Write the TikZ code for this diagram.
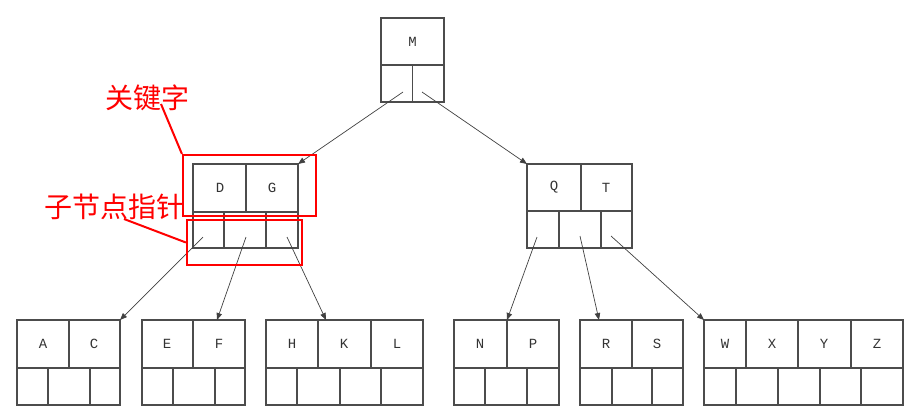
\documentclass[tikz,border=0pt]{standalone}
\usepackage{fontspec}
\newfontfamily\cjk{Noto Sans CJK SC}
\newfontfamily\keyfont{Liberation Mono}
\usetikzlibrary{arrows.meta}
\tikzset{
  box/.style={draw=black!70, line width=1.1pt},
  arr/.style={draw=black!75, line width=0.7pt, -{Triangle[length=7pt,width=5.5pt]}},
  key/.style={font=\keyfont\fontsize{14}{14}\selectfont, text=black!80},
  redbox/.style={draw=red, line width=2.2pt},
  redline/.style={draw=red, line width=2pt},
  redlab/.style={font=\cjk\fontsize{28}{28}\selectfont, text=red, inner sep=0pt}
}
% #1 name #2 x0 #3 x1 #4 ytop #5 ymid #6 ybot #7 key splits #8 ptr splits #9 labels x/text
\newcommand\bnode[9]{%
  \draw[box] (#2,#4) rectangle (#3,#6);
  \draw[box] (#2,#5) -- (#3,#5);
  \foreach \s in {#7} {\draw[box] (\s,#4) -- (\s,#5);}
  \foreach \s in {#8} {\draw[box] (\s,#5) -- (\s,#6);}
  \foreach \x/\t in {#9} {\node[key] at (\x,{(#4+#5)/2}) {\t};}
  \coordinate (#1-nw) at (#2,#4);
  \coordinate (#1-ne) at (#3,#4);
}
\begin{document}
\begin{tikzpicture}[x=1pt,y=-1pt]
\useasboundingbox (0,0) rectangle (911,416);
\bnode{M}{381}{444}{18}{65}{102}{}{412.5}{412.5/M}
\bnode{DG}{193}{298}{164}{212}{248}{246}{224,266}{220/D,272/G}
\bnode{QT}{527}{632}{164}{211}{248}{581}{559,601}{554/Q,606/T}
\bnode{AC}{17}{120}{320}{368}{405}{69}{48,90}{43/A,94/C}
\bnode{EF}{142}{245}{320}{368}{405}{193}{173,215}{167/E,219/F}
\bnode{HKL}{266}{423}{320}{368}{405}{318,371}{297,340,381}{292/H,344/K,397/L}
\bnode{NP}{454}{559}{320}{368}{405}{507}{485,527}{480/N,533/P}
\bnode{RS}{580}{683}{320}{368}{405}{632}{612,652}{606/R,657/S}
\bnode{WXYZ}{704}{903}{320}{368}{405}{746,798,851}{736,778,820,861}{725/W,772/X,824/Y,877/Z}
% pointer starts and targets
\coordinate (M-p1) at (403,92);
\coordinate (M-p2) at (422,92);
\coordinate (DG-p1) at (203,237);
\coordinate (DG-p2) at (246,237);
\coordinate (DG-p3) at (287,237);
\coordinate (QT-p1) at (537,237);
\coordinate (QT-p2) at (580,236);
\coordinate (QT-p3) at (611,236);
\coordinate (EF-t) at (217,320);
\coordinate (HKL-t) at (326,320);
\coordinate (NP-t) at (507,320);
\coordinate (RS-t) at (599,320);
\draw[arr] (M-p1) -- (DG-ne);
\draw[arr] (M-p2) -- (QT-nw);
\draw[arr] (DG-p1) -- (AC-ne);
\draw[arr] (DG-p2) -- (EF-t);
\draw[arr] (DG-p3) -- (HKL-t);
\draw[arr] (QT-p1) -- (NP-t);
\draw[arr] (QT-p2) -- (RS-t);
\draw[arr] (QT-p3) -- (WXYZ-nw);
% annotations
\node[redbox, minimum width=133pt, minimum height=61pt, inner sep=0pt] (kbox) at (249.5,185.5) {};
\node[redbox, minimum width=115pt, minimum height=45pt, inner sep=0pt] (pbox) at (244.5,242.5) {};
\node[redlab] (klab) at (147,98) {关键字};
\node[redlab] (plab) at (115,207) {子节点指针};
\coordinate (k1) at (161,104);
\coordinate (p1) at (124,219);
\draw[redline] (k1) -- (kbox.north west);
\draw[redline] (p1) -- (pbox.west);
\end{tikzpicture}
\end{document}
